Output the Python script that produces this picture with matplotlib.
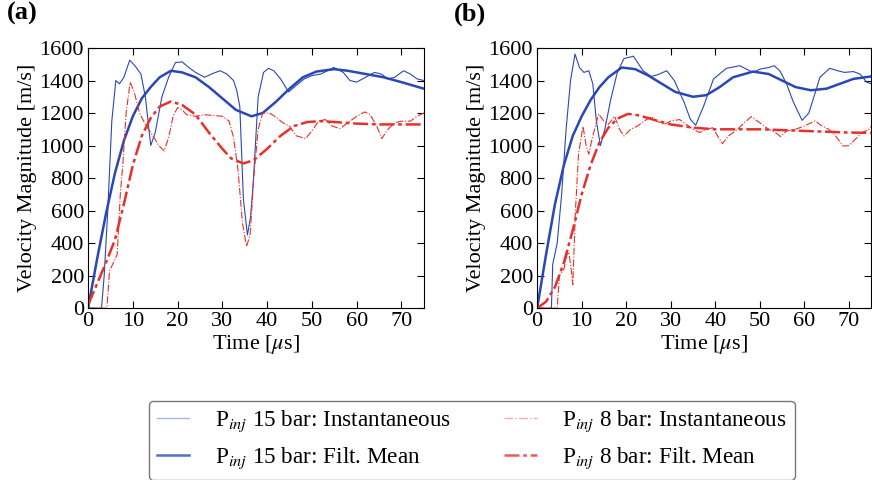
import matplotlib
matplotlib.use('Agg')
import matplotlib.pyplot as plt
from matplotlib.lines import Line2D
import numpy as np

plt.rcParams['font.family'] = ['Liberation Serif', 'DejaVu Serif']
plt.rcParams['mathtext.fontset'] = 'stix'
plt.rcParams['font.size'] = 16

# Panel (a): P_inj 15 bar, instantaneous
a15_t = [0, 3.0, 3.6, 4.4, 5.3, 6.2, 7.0, 8.0, 9.3, 10.5, 11.8, 12.8, 14.0, 15.0, 16.5, 18.0, 19.5, 21.0,
         22.5, 24.0, 26.0, 28.0, 29.5, 31.0, 32.5, 33.2, 33.9, 34.7, 35.6, 36.3, 36.9, 38.0, 39.2, 40.3,
         41.5, 43.0, 44.8, 46.5, 48.3, 50.0, 52.0, 54.9, 57.0, 58.5, 60.0, 62.0, 64.0, 65.5, 67.0, 68.5,
         70.5, 72.0, 73.5, 75.0]
a15_v = [0, 0, 200, 600, 1150, 1400, 1380, 1420, 1525, 1490, 1440, 1300, 1000, 1080, 1300, 1420, 1510, 1515,
         1480, 1450, 1420, 1445, 1460, 1440, 1400, 1340, 1240, 670, 450, 560, 770, 1300, 1450, 1475,
         1460, 1410, 1330, 1370, 1410, 1430, 1440, 1480, 1450, 1400, 1390, 1420, 1450, 1440, 1410, 1420,
         1460, 1440, 1410, 1400]
# Panel (a): P_inj 15 bar, filtered mean
a15m_t = [0, 2, 4, 6, 8, 10, 12, 14, 16, 18.5, 21, 24, 27, 30, 33, 36.5, 39, 42, 45, 48, 51, 55, 58, 62, 66, 70, 75]
a15m_v = [0, 300, 580, 830, 1030, 1180, 1290, 1360, 1420, 1460, 1450, 1420, 1360, 1290, 1220, 1180, 1200,
          1270, 1350, 1420, 1455, 1470, 1460, 1440, 1420, 1390, 1350]
# Panel (a): P_inj 8 bar, instantaneous
a8_t = [0, 4.2, 4.8, 5.5, 6.5, 7.2, 7.8, 8.5, 9.4, 10.3, 11.5, 13, 14.5, 15.8, 17, 18, 19, 20, 21, 22, 24, 26,
        28, 30, 31.5, 32.5, 33.5, 34.5, 35.4, 36.2, 37, 38, 39, 40.5, 42, 43.5, 45, 46.5, 48.6, 50, 51.5, 53,
        54.5, 56.3, 58, 60, 61.8, 63, 64.5, 65.6, 67, 68.5, 70, 72, 73.5, 75]
a8_v = [0, 0, 230, 270, 330, 700, 900, 1200, 1390, 1330, 1200, 1120, 1060, 1000, 967, 1050, 1180, 1234, 1220,
        1190, 1180, 1190, 1185, 1180, 1150, 1050, 850, 520, 380, 450, 800, 1100, 1199, 1200, 1175, 1140, 1120,
        1060, 1043, 1090, 1150, 1160, 1120, 1104, 1140, 1180, 1207, 1190, 1120, 1043, 1100, 1140, 1150, 1150,
        1180, 1200]
# Panel (a): P_inj 8 bar, filtered mean
a8m_t = [0, 2, 4, 6, 8, 10, 12, 14, 16, 18.5, 21, 24, 27, 30, 32, 34.7, 37, 40, 43, 46, 49, 52, 55, 60, 65, 70, 75]
a8m_v = [20, 150, 280, 420, 640, 880, 1060, 1170, 1240, 1271, 1250, 1190, 1080, 980, 920, 890, 910, 980, 1060,
         1120, 1145, 1150, 1145, 1135, 1130, 1130, 1130]

# Panel (b): P_inj 15 bar, instantaneous
b15_t = [0, 3.2, 3.5, 4.5, 5.5, 6.5, 7.5, 8.5, 9.5, 10.5, 11.6, 12.5, 13.3, 14.2, 15.2, 16.5, 18, 19.5, 21,
         21.6, 23.8, 25.6, 27, 29.1, 30.8, 33, 34.4, 35.6, 37.4, 39.6, 42.5, 45.5, 47, 48.5, 50, 52, 53.2,
         54.5, 56, 57.5, 59.5, 61, 62.5, 63.5, 65.7, 67.5, 69, 71, 72.5, 74, 75]
b15_v = [0, 0, 270, 400, 700, 1100, 1400, 1563, 1480, 1450, 1460, 1380, 1150, 1000, 1100, 1280, 1450, 1535,
         1545, 1550, 1460, 1425, 1435, 1460, 1400, 1266, 1162, 1125, 1244, 1409, 1475, 1491, 1470, 1450, 1470,
         1480, 1491, 1460, 1380, 1270, 1155, 1200, 1330, 1420, 1475, 1460, 1450, 1455, 1440, 1390, 1380]
# Panel (b): P_inj 15 bar, filtered mean
b15m_t = [0, 2, 4, 6, 8, 10, 12, 14, 16, 19, 22, 25, 28, 31, 35, 38, 41, 44, 48.5, 52, 55, 58, 61.5, 65, 68, 71, 75]
b15m_v = [0, 330, 640, 880, 1060, 1180, 1280, 1360, 1420, 1480, 1470, 1430, 1380, 1330, 1300, 1310, 1360,
          1420, 1455, 1440, 1400, 1360, 1340, 1350, 1380, 1410, 1425]
# Panel (b): P_inj 8 bar, instantaneous
b8_t = [0, 4.5, 5, 6, 6.7, 7.1, 7.6, 8, 8.6, 9.3, 10.3, 11, 11.6, 12.4, 13.8, 15, 16, 17.4, 18.5, 19.5, 21,
        22.5, 24, 25.6, 27, 28.5, 30, 32, 33.5, 35, 36.5, 38, 39.5, 40.5, 41.6, 43, 45, 46.5, 48.1, 50, 52,
        53.5, 54.7, 56, 58, 60, 62.4, 64, 65.5, 67, 68.7, 70, 71.5, 73, 74.5, 75]
b8_v = [0, 0, 200, 240, 330, 345, 250, 144, 600, 950, 1117, 1000, 946, 1050, 1193, 1150, 1130, 1180, 1100,
        1059, 1100, 1120, 1150, 1178, 1150, 1130, 1150, 1160, 1130, 1100, 1080, 1100, 1110, 1060, 1012, 1060,
        1100, 1140, 1178, 1140, 1100, 1080, 1055, 1090, 1100, 1120, 1152, 1120, 1100, 1060, 997, 1000, 1040,
        1080, 1100, 1117]
# Panel (b): P_inj 8 bar, filtered mean
b8m_t = [0, 2, 4, 6, 8, 10, 12, 14, 16, 18, 20.4, 23, 26, 30, 35, 40, 45, 50, 55, 60, 65, 70, 75]
b8m_v = [0, 40, 130, 280, 480, 700, 880, 1020, 1110, 1165, 1195, 1185, 1160, 1130, 1110, 1100, 1100, 1100,
         1095, 1090, 1085, 1080, 1078]

x_ticks = [0, 10, 20, 30, 40, 50, 60, 70]
y_ticks = [0, 200, 400, 600, 800, 1000, 1200, 1400, 1600]
labels = [r'P$_{inj}$ 15 bar: Instantaneous', r'P$_{inj}$ 15 bar: Filt. Mean',
          r'P$_{inj}$ 8 bar: Instantaneous', r'P$_{inj}$ 8 bar: Filt. Mean']

blue = '#2a48b4'
red = '#e8302a'
mean_dash = (0, (6, 1.5, 1.5, 1.5))

fig = plt.figure(figsize=(8.72, 4.8), dpi=100)
ax_a = fig.add_axes([0.101, 0.358, 0.385, 0.542])
ax_b = fig.add_axes([0.616, 0.358, 0.383, 0.542])

panels = [(ax_a, a15_t, a15_v, a15m_t, a15m_v, a8_t, a8_v, a8m_t, a8m_v),
          (ax_b, b15_t, b15_v, b15m_t, b15m_v, b8_t, b8_v, b8m_t, b8m_v)]

for ax, t1, v1, t2, v2, t3, v3, t4, v4 in panels:
    ax.plot(t1, v1, color=blue, lw=0.8)
    ax.plot(t2, v2, color=blue, lw=1.8)
    ax.plot(t3, v3, color=red, lw=0.8, linestyle='-.')
    ax.plot(t4, v4, color=red, lw=1.8, linestyle=mean_dash)
    ax.set_xlim(0, 75)
    ax.set_ylim(0, 1600)
    ax.set_xticks(x_ticks)
    ax.set_yticks(y_ticks)
    ax.tick_params(direction='in', top=True, right=True, length=5, width=0.8, labelsize=16, pad=3)
    ax.set_xlabel(r'Time [$\mu$s]', fontsize=16, labelpad=1)
    ax.set_ylabel('Velocity Magnitude [m/s]', fontsize=16, labelpad=2)
    for s in ax.spines.values():
        s.set_linewidth(0.8)

fig.text(0.008, 0.995, '(a)', fontsize=19, fontweight='bold', va='top', ha='left')
fig.text(0.521, 0.995, '(b)', fontsize=19, fontweight='bold', va='top', ha='left')

handles = [Line2D([], [], color=blue, lw=1.0, alpha=0.4),
           Line2D([], [], color=blue, lw=1.8, alpha=0.8),
           Line2D([], [], color=red, lw=1.0, alpha=0.4, linestyle='-.'),
           Line2D([], [], color=red, lw=1.8, alpha=0.8, linestyle=mean_dash)]
fig.legend(handles, labels, loc='center', bbox_to_anchor=(0.541, 0.083), ncol=2, fontsize=16.7,
           frameon=True, fancybox=True, edgecolor='#555555', handlelength=1.4, handletextpad=1.1,
           columnspacing=2.3, labelspacing=0.5, borderpad=0.35, borderaxespad=0)

fig.savefig('out.png', dpi=100)
